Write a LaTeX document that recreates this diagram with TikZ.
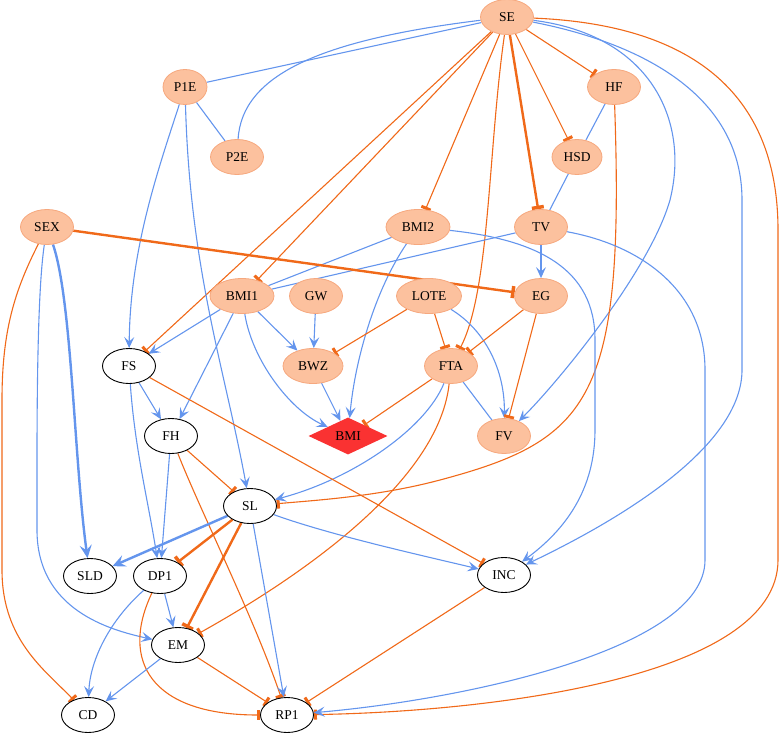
\documentclass[tikz,border=0pt]{standalone}
\usepackage{fontspec}
\setmainfont{Liberation Serif}
\usetikzlibrary{arrows.meta,shapes.geometric,backgrounds}
\definecolor{nfill}{RGB}{252,193,158}
\definecolor{nborder}{RGB}{246,168,126}
\definecolor{eorange}{RGB}{240,105,25}
\definecolor{eblue}{RGB}{100,149,237}
\definecolor{bmired}{RGB}{250,50,50}
\begin{document}
\begin{tikzpicture}[x=1pt,y=-1pt,
  every node/.style={font=\fontsize{13.5}{15}\selectfont},
  onode/.style={ellipse, fill=nfill, draw=nborder, line width=0.8pt, minimum width=53pt, minimum height=35pt, inner sep=0pt},
  wnode/.style={ellipse, fill=white, draw=black, line width=0.9pt, minimum width=53pt, minimum height=35pt, inner sep=0pt},
  bmistyle/.style={diamond, aspect=2.2, fill=bmired, draw=none, minimum width=79pt, minimum height=37pt, inner sep=0pt},
  bl/.style={draw=eblue, line width=1.1pt},
  blv/.style={draw=eblue, line width=1.1pt, -{Stealth[length=11pt,width=10pt,inset=4.5pt]}},
  blvthick/.style={draw=eblue, line width=2.4pt, -{Stealth[length=13pt,width=12pt,inset=5pt]}},
  ort/.style={draw=eorange, line width=1.1pt, -{Rectangle[length=3pt,width=10pt]}},
  ortthick/.style={draw=eorange, line width=2.4pt, -{Rectangle[length=3.5pt,width=12pt]}},
]
\useasboundingbox (0,0) rectangle (779,733);

% nodes
\node[onode] (SE) at (507,17) {SE};
\node[onode, minimum width=44pt] (P1E) at (185,87) {P1E};
\node[onode] (P2E) at (237,157) {P2E};
\node[onode] (HF) at (614,87) {HF};
\node[onode, minimum width=50pt] (HSD) at (577,157) {HSD};
\node[onode] (SEX) at (47,227) {SEX};
\node[onode, minimum width=64pt] (BMI2) at (418,227) {BMI2};
\node[onode] (TV) at (541,227) {TV};
\node[onode, minimum width=64pt] (BMI1) at (242,296) {BMI1};
\node[onode] (GW) at (316,296) {GW};
\node[onode, minimum width=65pt] (LOTE) at (429,296) {LOTE};
\node[onode] (EG) at (541,296) {EG};
\node[wnode] (FS) at (129,366) {FS};
\node[onode, minimum width=60pt] (BWZ) at (313,366) {BWZ};
\node[onode] (FTA) at (451,366) {FTA};
\node[bmistyle] (BMI) at (348,436) {BMI};
\node[wnode] (FH) at (171,436) {FH};
\node[onode] (FV) at (504,436) {FV};
\node[wnode] (SL) at (250,506) {SL};
\node[wnode] (SLD) at (90,576) {SLD};
\node[wnode] (DP1) at (160,576) {DP1};
\node[wnode] (INC) at (504,575) {INC};
\node[wnode] (EM) at (178,645) {EM};
\node[wnode] (CD) at (88,715) {CD};
\node[wnode] (RP1) at (287,715) {RP1};

\begin{scope}[on background layer]
% from SE
\draw[bl] (SE) -- (P1E);
\draw[bl] (SE) .. controls (320,40) and (242,75) .. (P2E);
\draw[ort] (SE) -- (HF);
\draw[ort] (SE) -- (HSD);
\draw[ortthick] (SE) -- (TV);
\draw[ort] (SE) -- (BMI2);
\draw[ort] (SE) .. controls (488,150) and (490,290) .. (FTA);
\draw[ort] (SE) -- (BMI1);
\draw[ort] (SE) -- (FS);
\draw[blv] (SE) .. controls (650,35) and (690,120) .. (670,200) .. controls (650,270) and (560,380) .. (FV);
\draw[blv] (SE) .. controls (650,45) and (742,100) .. (742,200) -- (742,370) .. controls (742,440) and (640,510) .. (INC);
\draw[ort] (SE) .. controls (700,25) and (778,100) .. (778,230) -- (778,560) .. controls (778,680) and (480,712) .. (RP1);
% upper nodes
\draw[bl] (P1E) -- (P2E);
\draw[bl] (HF) -- (HSD);
\draw[bl] (HSD) -- (TV);
\draw[ort] (HF) .. controls (625,400) and (590,440) .. (440,480) .. controls (380,496) and (320,500) .. (SL);
\draw[blv] (TV) -- (EG);
\draw[bl] (TV) -- (BMI1);
\draw[blv] (TV) .. controls (640,245) and (705,290) .. (705,370) -- (705,560) .. controls (705,650) and (460,700) .. (RP1);
\draw[bl] (BMI2) -- (BMI1);
\draw[blv] (BMI2) .. controls (375,290) and (355,360) .. (BMI);
\draw[blv] (BMI2) .. controls (540,240) and (595,270) .. (595,340) -- (595,430) .. controls (595,490) and (565,530) .. (INC);
\draw[blv] (P1E) .. controls (158,170) and (130,250) .. (FS);
\draw[blv] (P1E) .. controls (190,270) and (225,370) .. (SL);
% SEX
\draw[ortthick] (SEX) -- (EG);
\draw[blvthick] (SEX) .. controls (72,300) and (74,460) .. (SLD);
\draw[blv] (SEX) .. controls (36,300) and (37,450) .. (37,530) .. controls (37,610) and (110,630) .. (EM);
\draw[ort] (SEX) .. controls (15,290) and (2,330) .. (2,400) -- (2,570) .. controls (2,640) and (45,670) .. (CD);
% middle
\draw[blv] (BMI1) -- (FS);
\draw[blv] (BMI1) -- (BWZ);
\draw[blv] (BMI1) -- (FH);
\draw[blv] (BMI1) .. controls (252,360) and (290,410) .. (BMI);
\draw[blv] (GW) -- (BWZ);
\draw[ort] (LOTE) -- (BWZ);
\draw[ort] (LOTE) -- (FTA);
\draw[blv] (LOTE) .. controls (485,330) and (505,370) .. (FV);
\draw[ort] (EG) -- (FTA);
\draw[ort] (EG) -- (FV);
\draw[blv] (BWZ) -- (BMI);
\draw[ort] (FTA) -- (BMI);
\draw[bl] (FTA) -- (FV);
\draw[blv] (FTA) .. controls (425,430) and (350,480) .. (SL);
\draw[ort] (FTA) .. controls (440,470) and (330,560) .. (EM);
\draw[blv] (FS) -- (FH);
\draw[blv] (FS) .. controls (135,450) and (148,500) .. (DP1);
\draw[ort] (FS) -- (INC);
\draw[ort] (FH) -- (SL);
\draw[blv] (FH) -- (DP1);
\draw[ort] (FH) .. controls (200,510) and (255,620) .. (RP1);
% lower
\draw[blvthick] (SL) -- (SLD);
\draw[ortthick] (SL) -- (DP1);
\draw[ortthick] (SL) -- (EM);
\draw[blv] (SL) -- (RP1);
\draw[blv] (SL) .. controls (330,535) and (420,555) .. (INC);
\draw[blv] (DP1) -- (EM);
\draw[blv] (DP1) .. controls (110,620) and (90,660) .. (CD);
\draw[ort] (DP1) .. controls (120,660) and (150,715) .. (RP1);
\draw[blv] (EM) -- (CD);
\draw[ort] (EM) -- (RP1);
\draw[ort] (INC) -- (RP1);
\end{scope}
\end{tikzpicture}
\end{document}
